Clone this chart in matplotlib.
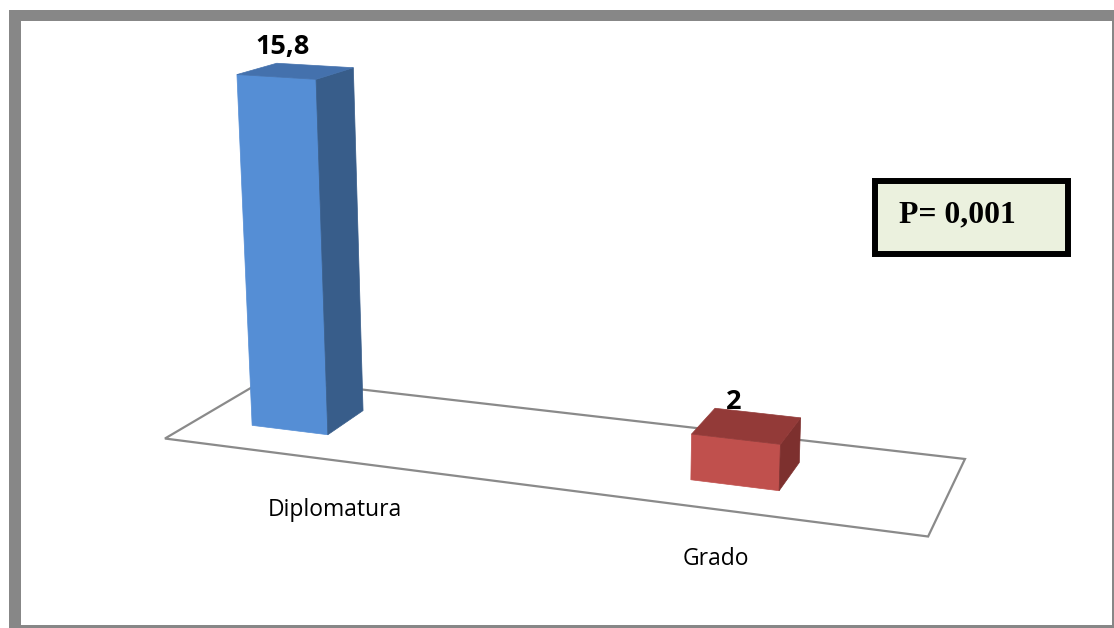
import matplotlib
matplotlib.use("Agg")
import numpy as np
import matplotlib.pyplot as plt
from matplotlib.patches import Polygon, Rectangle
from matplotlib.transforms import offset_copy

categories = ["Diplomatura", "Grado"]
values = [15.8, 2]
value_labels = ["15,8", "2"]
p_text = "P= 0,001"

# face colours per bar: front, side, top
bar_colors = [
    ("#558ed5", "#385d8a", "#4471ad"),
    ("#c0504d", "#7d302e", "#933a38"),
]

W, H = 1114, 628

# projective camera for the 3D scene (world units: bar width = 1, height = value)
CAMERA = np.array([
    [71.262523, 48.377764, -1.6382038, 252.12675],
    [3.5149698, -8.4248756, -22.41664, 425.3619],
    [-0.013500875, 0.037496035, -0.0028549971, 1.0],
])

bar_width = 1.0
bar_depth = 1.0
spacing = 5.444
floor_x = (-0.7245, 8.1975)
floor_y = (-0.8041, 1.7937)


def project(pts):
    pts = np.asarray(pts, float)
    h = np.c_[pts, np.ones(len(pts))] @ CAMERA.T
    return h[:, :2] / h[:, 2:]


fig = plt.figure(figsize=(W / 100, H / 100), dpi=100)
ax = fig.add_axes([0, 0, 1, 1])
ax.set_xlim(0, W)
ax.set_ylim(H, 0)
ax.axis("off")

# grey frame around the chart area
ax.add_patch(Rectangle((9, 10), W - 9, H - 10, facecolor="#878787", edgecolor="none"))
ax.add_patch(Rectangle((21, 21), 1091, 604, facecolor="white", edgecolor="none"))

# floor
fx0, fx1 = floor_x
fy0, fy1 = floor_y
floor = project([(fx0, fy0, 0), (fx1, fy0, 0), (fx1, fy1, 0), (fx0, fy1, 0)])
ax.add_patch(Polygon(floor, closed=True, facecolor="white", edgecolor="#8a8a8a", linewidth=1.6))

# bars
for i, v in enumerate(values):
    x0 = i * spacing
    x1 = x0 + bar_width
    y0, y1 = 0.0, bar_depth
    front = [(x0, y0, 0), (x1, y0, 0), (x1, y0, v), (x0, y0, v)]
    side = [(x1, y0, 0), (x1, y1, 0), (x1, y1, v), (x1, y0, v)]
    top = [(x0, y0, v), (x1, y0, v), (x1, y1, v), (x0, y1, v)]
    for face, col in zip([front, side, top], bar_colors[i]):
        ax.add_patch(Polygon(project(face), closed=True, facecolor=col,
                             edgecolor=col, linewidth=0.5))

    # value label above the bar top
    cx, cy = project([((x0 + x1) / 2, (y0 + y1) / 2, v)])[0]
    ax.text(cx, cy, value_labels[i], transform=offset_copy(ax.transData, fig=fig, x=-13, y=24, units="dots"),
            ha="center", va="center", fontsize=19.5, fontweight="bold", family="Open Sans")

# category labels spaced along the front edge of the floor
left, right = floor[0], floor[1]
for i, name in enumerate(categories):
    t = (i + 0.5) / len(categories)
    px, py = left + t * (right - left)
    ax.text(px, py, name, transform=offset_copy(ax.transData, fig=fig, x=-21, y=-47, units="dots"),
            ha="center", va="center", fontsize=16.5, family="Open Sans")

# p-value box
ax.add_patch(Rectangle((875, 181), 193, 73, facecolor="#ebf1de", edgecolor="black", linewidth=4.3))
ax.text(899, 215, p_text, ha="left", va="center", fontsize=22.8, fontweight="bold",
        family="Liberation Serif")

fig.savefig("out.png", dpi=100)
